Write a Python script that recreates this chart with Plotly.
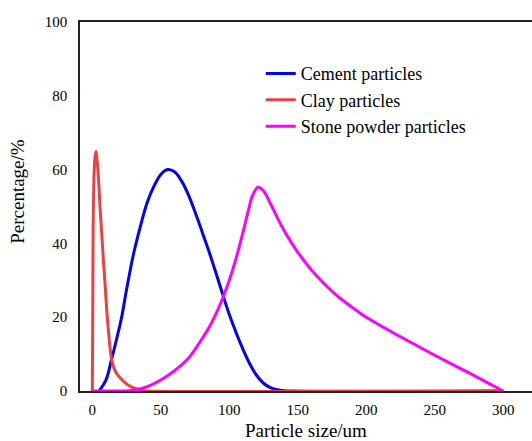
import plotly.graph_objects as go

# Cement particles
cement_x = [5, 10, 14, 18, 21.4, 25, 30, 35, 40, 45, 50, 55, 60, 65, 70, 75, 80, 85, 90, 95.6,
            100, 105, 110, 115, 120, 125, 130, 135, 140, 146, 300]
cement_y = [0, 3, 8.5, 14.5, 20, 27.5, 37, 44.5, 51, 55.5, 58.7, 60, 59.4, 57, 53.3, 48.5, 43.3, 38, 32.3, 25.7,
            20.7, 15.8, 11.3, 7.3, 4.2, 2.1, 0.9, 0.35, 0.1, 0, 0]

# Clay particles
clay_x = [0, 0.3, 0.6, 1.2, 2, 2.8, 3.6, 4.6, 5.6, 6.8, 8, 9.3, 10.5, 11.7, 13, 14.1, 16, 18, 20.2,
          24, 28, 32, 36, 40, 300]
clay_y = [0, 20, 45, 58, 63.5, 65, 62, 57, 50, 43, 36, 29, 22, 16.5, 11.5, 8.5, 6, 4.6, 3.6,
          2.2, 1.2, 0.6, 0.2, 0, 0]

# Stone powder particles
stone_x = [0, 20, 30, 40, 50, 60, 70, 75, 80, 85, 90, 95, 100, 105, 110, 114, 117, 121, 125, 130,
           135, 140, 145, 150, 160, 170, 180, 190, 200, 225, 250, 275, 300]
stone_y = [0, 0, 0.2, 1.2, 3, 5.5, 8.8, 11.3, 14.1, 17.1, 20.7, 25, 30, 36, 43, 49, 53, 55.2, 54.2, 50.8,
           47, 43.5, 40.4, 37.6, 32.8, 28.8, 25.4, 22.6, 20, 14.7, 9.7, 4.9, 0]

x_ticks = [0, 50, 100, 150, 200, 250, 300]
y_ticks = [0, 20, 40, 60, 80, 100]

FONT = "Liberation Serif"

fig = go.Figure()
fig.add_trace(go.Scatter(x=cement_x, y=cement_y, mode="lines", name="Cement particles",
                         line=dict(color="#0000FF", width=3, shape="spline", smoothing=1)))
fig.add_trace(go.Scatter(x=clay_x, y=clay_y, mode="lines", name="Clay particles",
                         line=dict(color="#EF4040", width=3, shape="spline", smoothing=0.6)))
fig.add_trace(go.Scatter(x=stone_x, y=stone_y, mode="lines", name="Stone powder particles",
                         line=dict(color="#FF00FF", width=3, shape="spline", smoothing=1)))

fig.update_layout(
    width=532, height=441,
    margin=dict(l=80, r=0, t=22, b=50),
    paper_bgcolor="white", plot_bgcolor="white",
    font=dict(family=FONT, size=15, color="black"),
    showlegend=True,
    legend=dict(x=0.40, y=0.91, xanchor="left", yanchor="top",
                font=dict(family=FONT, size=18, color="black"),
                bgcolor="rgba(0,0,0,0)", tracegroupgap=0),
    xaxis=dict(range=[-9, 321], tickvals=x_ticks, showgrid=False, zeroline=False,
               showline=True, linecolor="#222", linewidth=1.5, mirror=True,
               ticks="", ticklabelstandoff=4,
               tickfont=dict(family=FONT, size=15, color="black")),
    yaxis=dict(range=[0, 100], tickvals=y_ticks, showgrid=False, zeroline=False,
               showline=True, linecolor="#222", linewidth=1.5,
               ticks="", ticklabelstandoff=8,
               tickfont=dict(family=FONT, size=15, color="black")),
    annotations=[
        dict(text="Particle size/um", xref="paper", yref="paper", x=0.5, y=-0.074,
             xanchor="center", yanchor="top", showarrow=False,
             font=dict(family=FONT, size=19, color="black")),
        dict(text="Percentage/%", xref="paper", yref="paper", x=-0.137, y=0.54,
             xanchor="center", yanchor="middle", textangle=-90, showarrow=False,
             font=dict(family=FONT, size=19, color="black")),
    ],
)

fig.write_html("out.html")
